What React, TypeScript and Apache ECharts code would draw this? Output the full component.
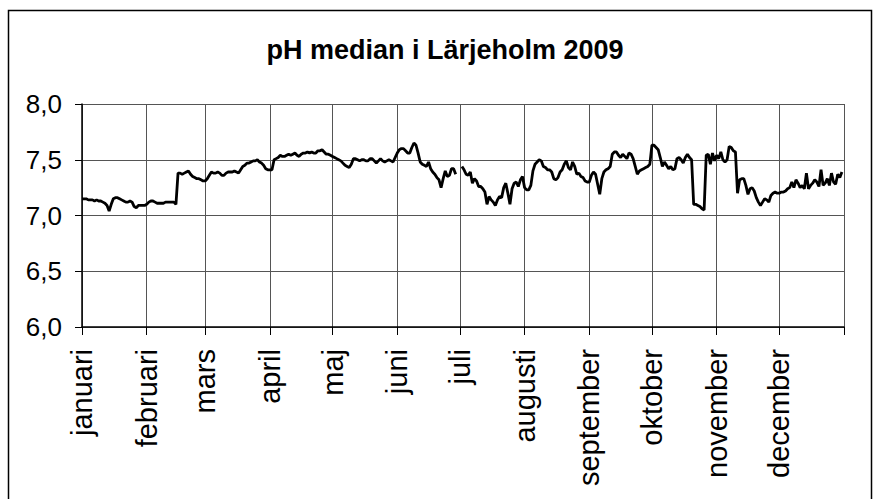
import React, { useEffect, useRef } from "react";
import * as echarts from "echarts";

const chartTitle = "pH median i Lärjeholm 2009";
const monthNames = [
  "januari", "februari", "mars", "april", "maj", "juni",
  "juli", "augusti", "september", "oktober", "november", "december",
];
const monthLengths = [31, 28, 31, 30, 31, 30, 31, 31, 30, 31, 30, 31];
const yMin = 6.0;
const yMax = 8.0;
const yStep = 0.5;

// daily pH medians, one array per month (null = missing)
const jan = [7.15, 7.15, 7.15, 7.14, 7.14, 7.14, 7.13, 7.14, 7.13, 7.13, 7.12, 7.11, 7.09, 7.04, 7.10, 7.15, 7.16, 7.16, 7.15, 7.14, 7.13, 7.12, 7.12, 7.13, 7.12, 7.08, 7.07, 7.09, 7.09, 7.09, 7.09];
const feb = [7.10, 7.12, 7.13, 7.13, 7.12, 7.11, 7.11, 7.11, 7.11, 7.12, 7.12, 7.12, 7.12, 7.12, 7.10, 7.38, 7.38, 7.37, 7.38, 7.39, 7.40, 7.37, 7.35, 7.34, 7.33, 7.33, 7.32, 7.31];
const mar = [7.31, 7.33, 7.36, 7.39, 7.38, 7.38, 7.39, 7.38, 7.36, 7.36, 7.38, 7.39, 7.39, 7.39, 7.40, 7.39, 7.38, 7.41, 7.44, 7.45, 7.47, 7.47, 7.48, 7.49, 7.49, 7.50, 7.48, 7.47, 7.45, 7.42, 7.41];
const apr = [7.41, 7.41, 7.50, 7.51, 7.52, 7.54, 7.53, 7.53, 7.54, 7.55, 7.54, 7.55, 7.56, 7.54, 7.53, 7.55, 7.56, 7.56, 7.57, 7.56, 7.57, 7.56, 7.56, 7.58, 7.58, 7.59, 7.57, 7.55, 7.55, 7.54];
const may = [7.53, 7.52, 7.51, 7.50, 7.49, 7.47, 7.45, 7.44, 7.43, 7.46, 7.51, 7.51, 7.50, 7.49, 7.50, 7.50, 7.49, 7.49, 7.51, 7.51, 7.49, 7.47, 7.49, 7.51, 7.49, 7.48, 7.49, 7.50, 7.49, 7.48, 7.52];
const jun = [7.56, 7.59, 7.60, 7.60, 7.58, 7.56, 7.56, 7.61, 7.65, 7.63, 7.56, 7.48, 7.46, 7.45, 7.44, 7.48, 7.42, 7.39, 7.37, 7.34, 7.32, 7.25, 7.33, 7.40, 7.35, 7.36, 7.42, 7.42, 7.37, null];
const jul = [null, 7.44, 7.41, 7.37, 7.36, 7.39, 7.29, 7.33, 7.31, 7.26, 7.26, 7.24, 7.21, 7.10, 7.17, 7.14, 7.12, 7.09, 7.14, 7.17, 7.16, 7.25, 7.29, 7.20, 7.10, 7.24, 7.29, 7.30, 7.26, 7.32, 7.35];
const aug = [7.25, 7.23, 7.23, 7.27, 7.40, 7.46, 7.48, 7.50, 7.49, 7.44, 7.43, 7.41, 7.41, 7.39, 7.33, 7.32, 7.34, 7.39, 7.41, 7.46, 7.49, 7.43, 7.41, 7.48, 7.44, 7.37, 7.38, 7.35, 7.34, 7.31, 7.30];
const sep = [7.30, 7.36, 7.39, 7.37, 7.28, 7.19, 7.33, 7.39, 7.41, 7.42, 7.44, 7.55, 7.57, 7.57, 7.54, 7.52, 7.55, 7.53, 7.51, 7.56, 7.55, 7.51, 7.44, 7.37, 7.40, 7.41, 7.42, 7.43, 7.44, 7.46];
const oct = [7.63, 7.63, 7.61, 7.59, 7.52, 7.44, 7.48, 7.45, 7.42, 7.44, 7.41, 7.42, 7.51, 7.52, 7.50, 7.47, 7.52, 7.55, 7.52, 7.50, 7.10, 7.10, 7.09, 7.08, 7.06, 7.05, 7.54, 7.55, 7.46, 7.56, 7.49];
const nov = [7.54, 7.51, 7.57, 7.50, 7.48, 7.50, 7.62, 7.61, 7.58, 7.57, 7.20, 7.32, 7.33, 7.33, 7.27, 7.19, 7.24, 7.25, 7.22, 7.16, 7.12, 7.09, 7.12, 7.15, 7.14, 7.12, 7.18, 7.20, 7.21, 7.20];
const dec = [7.20, 7.21, 7.21, 7.22, 7.24, 7.25, 7.30, 7.25, 7.32, 7.29, 7.25, 7.27, 7.24, 7.38, 7.24, 7.27, 7.29, 7.32, 7.30, 7.26, 7.41, 7.27, 7.29, 7.33, 7.27, 7.38, 7.30, 7.28, 7.37, 7.34, 7.39];

export default function App() {
  const ref = useRef<HTMLDivElement>(null);

  useEffect(() => {
    if (!ref.current) return;
    const chart = echarts.init(ref.current, null, { renderer: "svg" });

    const months = [jan, feb, mar, apr, may, jun, jul, aug, sep, oct, nov, dec];
    const values: (number | null)[] = [];
    months.forEach((m) => m.forEach((v) => values.push(v)));
    values.push(null); // boundary: 1 Jan 2010

    const starts = new Map<number, string>();
    let acc = 0;
    monthLengths.forEach((len, i) => {
      starts.set(acc, monthNames[i]);
      acc += len;
    });
    const total = acc; // 365
    const tickSet = new Set<number>([...starts.keys(), total]);

    const categories: string[] = [];
    let m = 0;
    let d = 1;
    for (let i = 0; i <= total; i++) {
      categories.push(i === total ? "2010-01-01" : `2009-${String(m + 1).padStart(2, "0")}-${String(d).padStart(2, "0")}`);
      d++;
      if (m < 12 && d > monthLengths[m]) {
        d = 1;
        m++;
      }
    }

    const font = "'Liberation Sans', Arial, sans-serif";

    chart.setOption({
      animation: false,
      backgroundColor: "#ffffff",
      title: {
        text: chartTitle,
        left: 440,
        top: 31,
        textAlign: "center",
        textStyle: { fontFamily: font, fontSize: 27, fontWeight: "bold", color: "#000" },
      },
      graphic: [
        {
          type: "rect",
          silent: true,
          z: -1,
          shape: { x: 8.5, y: 10.5, width: 863, height: 520 },
          style: { fill: "none", stroke: "#000", lineWidth: 1.5 },
        },
      ],
      grid: { left: 82, right: 35, top: 104, bottom: 172, containLabel: false },
      xAxis: {
        type: "category",
        boundaryGap: false,
        data: categories,
        axisLine: { show: true, lineStyle: { color: "#000", width: 1.5 } },
        axisTick: {
          show: true,
          interval: (i: number) => tickSet.has(i),
          length: 8,
          lineStyle: { color: "#000", width: 1 },
        },
        splitLine: {
          show: true,
          interval: (i: number) => tickSet.has(i),
          lineStyle: { color: "#555", width: 1 },
        },
        axisLabel: {
          interval: (i: number) => starts.has(i),
          formatter: (_v: string, i: number) => starts.get(i) ?? "",
          rotate: 90,
          margin: 22,
          fontFamily: font,
          fontSize: 29,
          color: "#000",
        },
      },
      yAxis: {
        type: "value",
        min: yMin,
        max: yMax,
        interval: yStep,
        axisLine: { show: true, lineStyle: { color: "#000", width: 1.5 } },
        axisTick: { show: true, length: 7, lineStyle: { color: "#000" } },
        splitLine: { show: true, lineStyle: { color: "#555", width: 1 } },
        axisLabel: {
          formatter: (v: number) => v.toFixed(1).replace(".", ","),
          margin: 20,
          fontFamily: font,
          fontSize: 26,
          color: "#000",
        },
      },
      series: [
        {
          type: "line",
          data: values,
          showSymbol: false,
          symbol: "none",
          connectNulls: false,
          lineStyle: { color: "#000", width: 2.8 },
          emphasis: { disabled: true },
        },
      ],
    });

    return () => chart.dispose();
  }, []);

  return (
    <div
      ref={ref}
      style={{ position: "fixed", left: 0, top: 0, width: 879, height: 499, background: "#fff" }}
    />
  );
}
